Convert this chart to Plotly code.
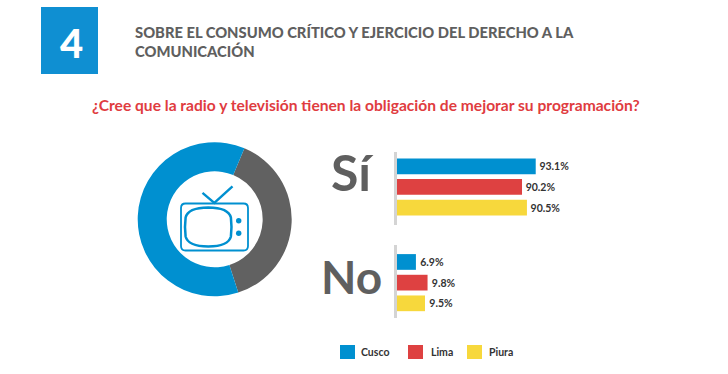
import plotly.graph_objects as go

W, H = 728, 374

# ---- data ----
cities = ["Cusco", "Lima", "Piura"]
si_labels = ["93.1%", "90.2%", "90.5%"]
no_labels = ["6.9%", "9.8%", "9.5%"]
# Bar lengths as drawn in the reference (its bars are not strictly proportional to the printed numbers)
si_lengths = [93.1, 83.9, 87.2]
no_lengths = [12.7, 20.5, 18.8]
donut_labels = ["Otros", "Principal"]
donut_values = [38.75, 61.25]
city_colors = ["#0090D0", "#DE4141", "#F7D83C"]
donut_colors = ["#616161", "#0090D0"]

heading = "SOBRE EL CONSUMO CRÍTICO Y EJERCICIO DEL DERECHO A LA<br>COMUNICACIÓN"
question = "¿Cree que la radio y televisión tienen la obligación de mejorar su programación?"

SANS = "Lato, Noto Sans, sans-serif"
GREY = "#5F5F5F"
BLUE = "#0090D0"


def fx(p):
    return p / W


def fy(p):
    return 1 - p / H


def ydom(top, bottom):
    return [fy(bottom), fy(top)]


AX0 = 397
UNIT = 1.49


def P(cmd, *xy):
    out = [cmd]
    for i in range(0, len(xy), 2):
        out.append(f"{fx(xy[i]):.5f},{fy(xy[i+1]):.5f}")
    return " ".join(out)


def rrect(x0, y0, x1, y1, r):
    return " ".join([
        P("M", x0 + r, y0), P("L", x1 - r, y0), P("Q", x1, y0, x1, y0 + r),
        P("L", x1, y1 - r), P("Q", x1, y1, x1 - r, y1),
        P("L", x0 + r, y1), P("Q", x0, y1, x0, y1 - r),
        P("L", x0, y0 + r), P("Q", x0, y0, x0 + r, y0), "Z",
    ])


def screen(x0, y0, x1, y1, b):
    mx, my = (x0 + x1) / 2, (y0 + y1) / 2
    return " ".join([
        P("M", mx, y0), P("Q", x1 - b * 0.3, y0 + 0.2, x1 - 0.6, y0 + b),
        P("Q", x1 + 0.6, my, x1 - 0.6, y1 - b), P("Q", x1 - b * 0.3, y1 - 0.2, mx, y1),
        P("Q", x0 + b * 0.3, y1 - 0.2, x0 + 0.6, y1 - b), P("Q", x0 - 0.6, my, x0 + 0.6, y0 + b),
        P("Q", x0 + b * 0.3, y0 + 0.2, mx, y0), "Z",
    ])


def rect(x0, y0, x1, y1, color):
    return dict(type="rect", xref="paper", yref="paper", x0=fx(x0), x1=fx(x1),
                y0=fy(y1), y1=fy(y0), fillcolor=color, line=dict(width=0))


def line_path(d, width):
    return dict(type="path", xref="paper", yref="paper", path=d,
                line=dict(color=BLUE, width=width), fillcolor="rgba(0,0,0,0)")


def dot(cx, cy, r):
    return dict(type="circle", xref="paper", yref="paper", x0=fx(cx - r), x1=fx(cx + r),
                y0=fy(cy + r), y1=fy(cy - r), fillcolor=BLUE, line=dict(width=0))


def text(x, y, s, size, color, family, anchor="left", weight=400):
    return dict(text=s, x=fx(x), y=fy(y), xref="paper", yref="paper", showarrow=False,
                xanchor=anchor, yanchor="middle", align="left",
                font=dict(size=size, color=color, family=family, weight=weight))


fig = go.Figure()

fig.add_trace(go.Pie(
    labels=donut_labels, values=donut_values, hole=0.623, sort=False, direction="clockwise",
    rotation=22.7, textinfo="none", showlegend=False,
    marker=dict(colors=donut_colors, line=dict(width=0)),
    domain=dict(x=[fx(214.7 - 77), fx(214.7 + 77)], y=ydom(219.3 - 77, 219.3 + 77)),
))

for lengths, labels, ax, pad in ((si_lengths, si_labels, "y", "\u200a"), (no_lengths, no_labels, "y2", "\u2009")):
    fig.add_trace(go.Bar(
        x=lengths, y=cities, orientation="h", yaxis=ax, xaxis="x" if ax == "y" else "x2",
        marker=dict(color=city_colors, line=dict(width=0)), width=0.76,
        text=labels, texttemplate=pad + "%{text}", textposition="outside", cliponaxis=False,
        textfont=dict(size=10.5, color="#333333", family=SANS, weight=700),
        showlegend=False,
    ))

xrange_ = [0, (W - AX0) / UNIT]
xcommon = dict(range=xrange_, domain=[fx(AX0), 1], visible=False, fixedrange=True)
ycommon = dict(categoryorder="array", categoryarray=cities, showticklabels=False, ticks="",
               showgrid=False, zeroline=False, showline=True, linecolor="#D4D4D4", linewidth=3)

fig.update_layout(
    width=W, height=H, margin=dict(l=0, r=0, t=0, b=0), autosize=False,
    paper_bgcolor="white", plot_bgcolor="white",
    xaxis=dict(**xcommon, anchor="y"),
    xaxis2=dict(**xcommon, anchor="y2"),
    yaxis=dict(**ycommon, domain=ydom(152, 225), range=[2.84, -0.69], anchor="x"),
    yaxis2=dict(**ycommon, domain=ydom(245, 318), range=[2.71, -0.82], anchor="x2"),
    shapes=[
        rect(41, 7, 98, 74, "#0F8FD2"),
        rect(340, 345, 355, 359, city_colors[0]),
        rect(408, 345, 423, 359, city_colors[1]),
        rect(467, 345, 482, 359, city_colors[2]),
        line_path(rrect(181, 203.5, 248, 250.5, 4.5), 1.8),
        line_path(screen(185, 207.5, 231.5, 246.5, 10), 2.5),
        line_path(" ".join([P("M", 202.5, 192.8), P("L", 214.3, 203), P("L", 232.5, 186.3)]), 2.4),
        dot(238.7, 220.7, 2.7),
        dot(238.7, 233.3, 2.7),
    ],
    annotations=[
        text(71.5, 43, "4", 40, "white", SANS, "center", 900),
        text(132.5, 41, heading, 14.75, GREY, SANS, "left", 900),
        text(366, 104.5, question, 15.6, "#E03C3F", SANS, "center", 700),
        text(352, 172, "Sí", 50, GREY, SANS, "center", 700),
        text(351.5, 276, "No", 46, GREY, SANS, "center", 700),
        text(358.5, 352, "Cusco", 10.5, "#333333", SANS, "left", 700),
        text(428.5, 352, "Lima", 10.5, "#333333", SANS, "left", 700),
        text(487.5, 352, "Piura", 10.5, "#333333", SANS, "left", 700),
    ],
)

fig.write_html("out.html", config=dict(displayModeBar=False),
               post_script="document.documentElement.style.margin='0';document.body.style.margin='0';")
